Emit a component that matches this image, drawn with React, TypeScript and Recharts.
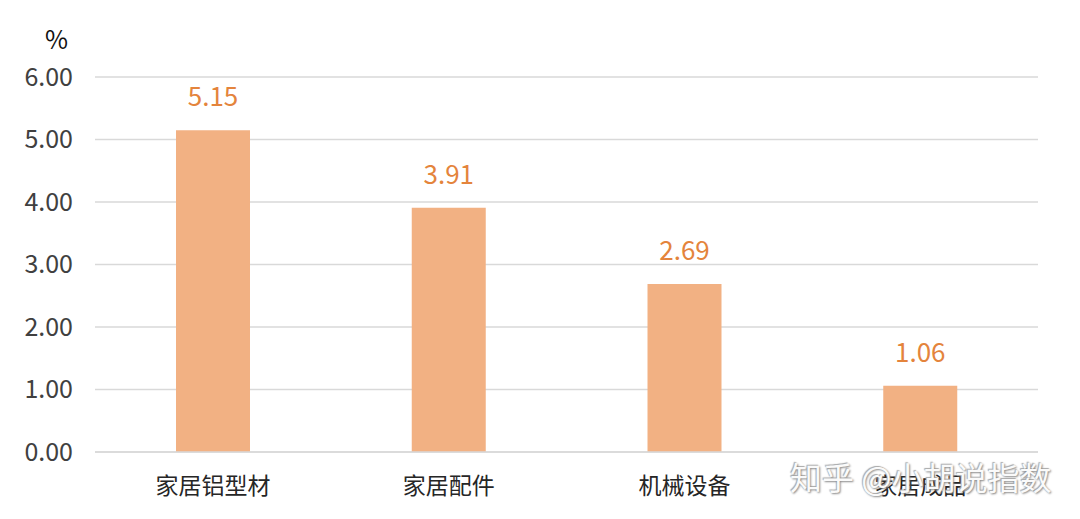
import { Bar, BarChart, CartesianGrid, LabelList, XAxis, YAxis } from "recharts";

const categories = ["家居铝型材", "家居配件", "机械设备", "家居成品"];
const values = [5.15, 3.91, 2.69, 1.06];
const yTicks = [0, 1, 2, 3, 4, 5, 6];

const data = categories.map((name, i) => ({ name, value: values[i] }));

const font = '"Noto Sans CJK SC", "Noto Sans", sans-serif';

export default function App() {
  return (
    <div style={{ position: "relative", width: 1080, height: 519, margin: -8, background: "#fff", fontFamily: font }}>
      <BarChart
        width={1080}
        height={519}
        data={data}
        margin={{ top: 77, right: 42, left: 0, bottom: 0 }}
      >
        <CartesianGrid vertical={false} stroke="#d9d9d9" strokeWidth={1.5} />
        <XAxis
          dataKey="name"
          height={67}
          axisLine={{ stroke: "#d9d9d9", strokeWidth: 1.5 }}
          tickLine={false}
          tick={{ fill: "#262626", fontSize: 23, fontFamily: font }}
          tickMargin={20}
          interval={0}
        />
        <YAxis
          width={95}
          domain={[0, 6]}
          ticks={yTicks}
          axisLine={false}
          tickLine={false}
          tickMargin={16}
          tick={{ fill: "#404040", fontSize: 25, fontFamily: font }}
          tickFormatter={(v) => Number(v).toFixed(2)}
        />
        <Bar dataKey="value" fill="#F2B183" barSize={74} isAnimationActive={false}>
          <LabelList
            dataKey="value"
            position="top"
            offset={24}
            fill="#E4843C"
            fontSize={26}
            fontFamily={font}
            formatter={(v: number) => v.toFixed(2)}
          />
        </Bar>
      </BarChart>
      <div style={{ position: "absolute", left: 45, top: 20, fontSize: 25, color: "#111" }}>%</div>
      <div
        style={{
          position: "absolute",
          left: 790,
          top: 453,
          fontSize: 32,
          color: "#fafafa",
          textShadow: "1px 1px 2px #888, -1px -1px 1px #aaa",
          whiteSpace: "nowrap",
        }}
      >
        知乎 @小胡说指数
      </div>
    </div>
  );
}
